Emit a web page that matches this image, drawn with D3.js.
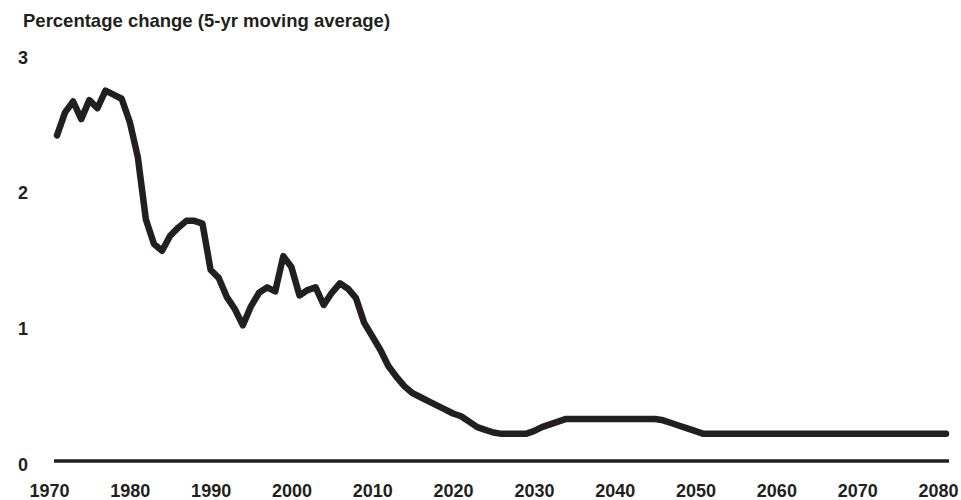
<!DOCTYPE html>
<html>
<head>
<meta charset="utf-8">
<script src="https://cdn.jsdelivr.net/npm/d3@7"></script>
<style>
  html, body { margin: 0; padding: 0; background: #fff; }
  svg { display: block; }
  text { font-family: "Liberation Sans", Arial, Helvetica, sans-serif; font-weight: bold; fill: #231f20; }
</style>
</head>
<body>
<script>
// Percentage change, 5-yr moving average, one value per year from 1970
const startYear = 1970;
const values = [
  2.40, 2.57, 2.65, 2.52, 2.66, 2.60, 2.73, 2.70, 2.67, 2.50, // 1970s
  2.24, 1.78, 1.60, 1.55, 1.66, 1.72, 1.77, 1.77, 1.75, 1.41, // 1980s
  1.35, 1.21, 1.12, 1.00, 1.14, 1.24, 1.28, 1.25, 1.51, 1.43, // 1990s
  1.22, 1.26, 1.28, 1.15, 1.24, 1.31, 1.27, 1.20, 1.02, 0.92, // 2000s
  0.82, 0.70, 0.62, 0.55, 0.50, 0.47, 0.44, 0.41, 0.38, 0.35, // 2010s
  0.33, 0.29, 0.25, 0.23, 0.21, 0.20, 0.20, 0.20, 0.20, 0.22, // 2020s
  0.25, 0.27, 0.29, 0.31, 0.31, 0.31, 0.31, 0.31, 0.31, 0.31, // 2030s
  0.31, 0.31, 0.31, 0.31, 0.31, 0.30, 0.28, 0.26, 0.24, 0.22, // 2040s
  0.20, 0.20, 0.20, 0.20, 0.20, 0.20, 0.20, 0.20, 0.20, 0.20, // 2050s
  0.20, 0.20, 0.20, 0.20, 0.20, 0.20, 0.20, 0.20, 0.20, 0.20, // 2060s
  0.20, 0.20, 0.20, 0.20, 0.20, 0.20, 0.20, 0.20, 0.20, 0.20, // 2070s
  0.20                                                        // 2080
];
const xTicks = [1970, 1980, 1990, 2000, 2010, 2020, 2030, 2040, 2050, 2060, 2070, 2080];
const yTicks = [0, 1, 2, 3];
const title = 'Percentage change (5-yr moving average)';

const width = 961, height = 500;
const ink = '#231f20';

const data = values.map((v, i) => ({ year: startYear + i, value: v }));

const x = d3.scaleLinear().domain([1970, 2080]).range([57, 946]);
const y = d3.scaleLinear().domain([0, 3]).range([461, 54]);

const svg = d3.select('body').append('svg')
    .attr('width', width)
    .attr('height', height);

svg.append('text')
    .attr('x', 23)
    .attr('y', 27)
    .attr('font-size', 18.5)
    .text(title);

/* Y axis labels */
const yAxis = svg.append('g')
    .attr('transform', 'translate(28,0)')
    .call(d3.axisLeft(y).tickValues(yTicks).tickSize(0).tickPadding(0)
        .tickFormat(d3.format('d')));
yAxis.select('.domain').remove();
yAxis.selectAll('text')
    .attr('dy', 9)
    .attr('font-size', 18)
    .attr('font-family', null)
    .attr('fill', ink);

/* X axis labels */
const xAxis = svg.append('g')
    .attr('transform', 'translate(-8,497)')
    .call(d3.axisBottom(x).tickValues(xTicks).tickSize(0).tickPadding(0)
        .tickFormat(d3.format('d')));
xAxis.select('.domain').remove();
xAxis.selectAll('text')
    .attr('y', 0)
    .attr('dy', 0)
    .attr('font-size', 18)
    .attr('font-family', null)
    .attr('fill', ink);

/* Zero line */
svg.append('line')
    .attr('x1', x(1970) - 3)
    .attr('x2', x(2080) + 3)
    .attr('y1', y(0))
    .attr('y2', y(0))
    .attr('stroke', ink)
    .attr('stroke-width', 3.5);

/* Series */
const line = d3.line()
    .x(d => x(d.year))
    .y(d => y(d.value));

svg.append('path')
    .datum(data)
    .attr('d', line)
    .attr('fill', 'none')
    .attr('stroke', ink)
    .attr('stroke-width', 6.5)
    .attr('stroke-linejoin', 'round')
    .attr('stroke-linecap', 'round');
</script>
</body>
</html>
